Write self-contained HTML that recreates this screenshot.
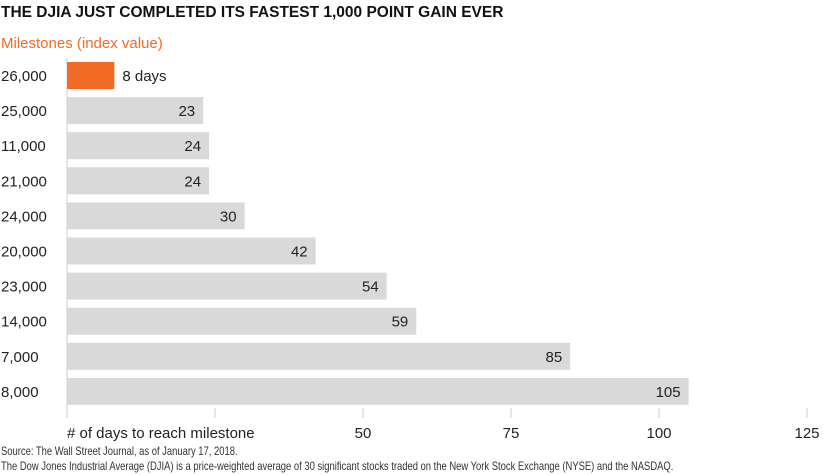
<!DOCTYPE html>
<html><head><meta charset="utf-8"><style>
body{margin:0;background:#fff;}
svg{display:block;font-family:"Liberation Sans",sans-serif;}
</style></head><body>
<svg id="chart" width="823" height="475" xmlns="http://www.w3.org/2000/svg">
<text x="1" y="17" font-size="15.5" font-weight="bold" fill="#111">THE DJIA JUST COMPLETED ITS FASTEST 1,000 POINT GAIN EVER</text>
<text x="1" y="48" font-size="15" fill="#f26b27">Milestones (index value)</text>
<g id="grid"></g>
<g id="bars"></g>
<text x="67" y="438" font-size="15" fill="#222"># of days to reach milestone</text>
<g id="ticks"></g>
<g transform="translate(1,455) scale(0.82,1)">
<text x="0" y="0" font-size="11.5" fill="#333">Source: The Wall Street Journal, as of January 17, 2018.</text>
<text x="0" y="15" font-size="11.5" fill="#333">The Dow Jones Industrial Average (DJIA) is a price-weighted average of 30 significant stocks traded on the New York Stock Exchange (NYSE) and the NASDAQ.</text>
</g>
</svg>
<script>
const categories=["26,000","25,000","11,000","21,000","24,000","20,000","23,000","14,000","7,000","8,000"];
const days=[8,23,24,24,30,42,54,59,85,105];
const tickValues=[0,25,50,75,100,125];
const tickLabels=["","","50","75","100","125"];
const NS="http://www.w3.org/2000/svg";
const x=v=>67+v*(740/125);
const rowY=i=>62+i*35.1;
const bh=27;
const bars=document.getElementById('bars'),grid=document.getElementById('grid'),ticks=document.getElementById('ticks');
function mk(tag,attrs,parent){const e=document.createElementNS(NS,tag);for(const k in attrs)e.setAttribute(k,attrs[k]);parent.appendChild(e);return e;}
tickValues.forEach((t,i)=>{
  const l=mk('line',{x1:x(t),x2:x(t),y1:i==0?58:408,y2:418,stroke:'#ccc','stroke-width':1},grid);
  
  
  if(tickLabels[i]){
    const tx=mk('text',{x:x(t),y:438,'font-size':15,'text-anchor':'middle',fill:'#222'},ticks);
    tx.textContent=tickLabels[i];
    
    
  }
});
categories.forEach((c,i)=>{
  const y=rowY(i);
  const lab=mk('text',{x:1,y:y+bh/2+5.5,'font-size':15,fill:'#222'},bars);
  lab.textContent=c;
  
  
  const r=mk('rect',{x:x(0),y:y,width:x(days[i])-x(0),height:bh,fill:i==0?'#f26b27':'#d9d9d9'},bars);
  
  
  const v=mk('text',{y:y+bh/2+5.5,'font-size':15,fill:'#222'},bars);
  if(i==0){v.setAttribute('x',x(days[i])+8);v.textContent=days[i]+' days';}
  else{v.setAttribute('x',x(days[i])-8);v.setAttribute('text-anchor','end');v.textContent=days[i];}
  
  
});
</script>
</body></html>
